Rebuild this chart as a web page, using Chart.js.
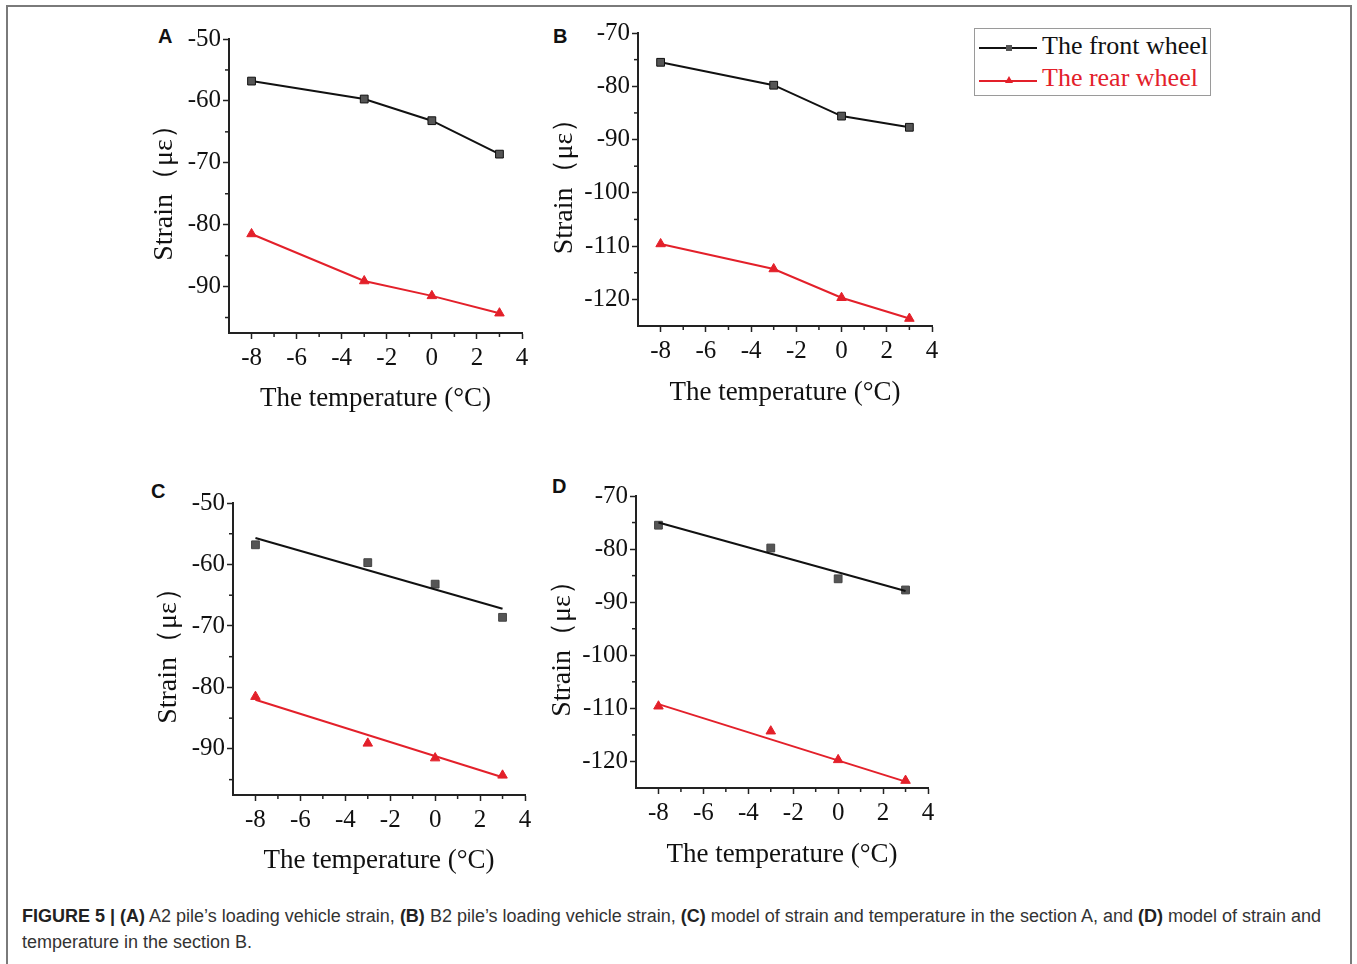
<!DOCTYPE html>
<html lang="en">
<head>
  <meta charset="UTF-8">
  <title>Strain vs temperature</title>
  <script src="https://cdn.jsdelivr.net/npm/chart.js"></script>
  <style>
    body { margin: 0; background: #fff; width: 1357px; height: 964px; overflow: hidden; position: relative; }
    .frame { position: absolute; left: 6px; top: 5px; width: 1342px; height: 980px;
             border: 2px solid #7a7a7a; border-bottom: none; }
    .panel { position: absolute; }
    .letter { position: absolute; font: bold 20px "Liberation Sans", Arial, sans-serif; color: #111; }
    .legend { position: absolute; left: 974px; top: 28px; width: 235px; height: 66px;
              border: 1.5px solid #9a9a9a; font: 26px "Liberation Serif", serif; }
    .legend div { position: absolute; left: 2px; height: 30px; line-height: 30px; white-space: nowrap; }
    .legend svg { vertical-align: middle; margin-right: 3px; }
    .caption { position: absolute; left: 22px; top: 903px; font: 18px/26px "Liberation Sans", Arial, sans-serif;
               color: #333; white-space: nowrap; }
    .caption b { color: #222; }
  </style>
</head>
<body>
  <div class="frame"></div>

  <div class="letter" style="left:158px;top:25px">A</div>
  <div class="letter" style="left:553px;top:25px">B</div>
  <div class="letter" style="left:151px;top:480px">C</div>
  <div class="letter" style="left:552px;top:475px">D</div>

  <canvas id="chartA" class="panel" style="left:140px;top:20px" width="400" height="400"></canvas>
  <canvas id="chartB" class="panel" style="left:540px;top:14px" width="420" height="400"></canvas>
  <canvas id="chartC" class="panel" style="left:144px;top:484px" width="400" height="398"></canvas>
  <canvas id="chartD" class="panel" style="left:538px;top:477px" width="410" height="399"></canvas>

  <div class="legend">
    <div style="top:2px;color:#111">
      <svg width="62" height="12"><line x1="2" y1="6" x2="60" y2="6" stroke="#111" stroke-width="2"/><rect x="29" y="3" width="6" height="6" fill="#555"/></svg>The front wheel
    </div>
    <div style="top:34px;color:#e3202a">
      <svg width="62" height="12"><line x1="2" y1="7" x2="60" y2="7" stroke="#e3202a" stroke-width="2"/><polygon points="32,2 36,9 28,9" fill="#e3202a"/></svg>The rear wheel
    </div>
  </div>

  <div class="caption">
    <b>FIGURE 5 | (A)</b> A2 pile’s loading vehicle strain, <b>(B)</b> B2 pile’s loading vehicle strain, <b>(C)</b> model of strain and temperature in the section A, and <b>(D)</b> model of strain and<br>temperature in the section B.
  </div>

  <script>
    // measured data
    const temps = [-8, -3, 0, 3];
    const frontA = [-56.8, -59.7, -63.2, -68.6];
    const rearA = [-81.5, -89.1, -91.5, -94.3];
    const frontB = [-75.5, -79.8, -85.6, -87.7];
    const rearB = [-109.6, -114.3, -119.7, -123.6];

    // fitted lines in C and D (end points)
    const fitX = [-8, 3];
    const fitFrontC = [-55.7, -67.2];
    const fitRearC = [-82.0, -94.6];
    const fitFrontD = [-75.0, -87.9];
    const fitRearD = [-109.2, -123.8];

    const xTicks = [-8, -6, -4, -2, 0, 2, 4];
    const yTicksAC = [-50, -60, -70, -80, -90];
    const yTicksBD = [-70, -80, -90, -100, -110, -120];

    const BLACK = "#111";
    const RED = "#e3202a";
    const serif = "'Liberation Serif', 'Times New Roman', serif";

    const pts = (xs, ys) => xs.map((x, i) => ({ x, y: ys[i] }));

    const minorTicks = {
      id: "minorTicks",
      afterDraw(chart) {
        const ctx = chart.ctx;
        ctx.save();
        ctx.strokeStyle = "#222";
        ctx.lineWidth = 1.5;
        ["x", "y"].forEach(id => {
          const s = chart.scales[id];
          const vals = s.ticks.map(t => t.value);
          const step = Math.abs(vals[1] - vals[0]);
          const lo = Math.min(...vals);
          for (let m = lo - step / 2; m < s.max; m += step) {
            if (m <= s.min || m >= s.max) continue;
            const p = s.getPixelForValue(m);
            ctx.beginPath();
            if (id === "x") { ctx.moveTo(p, s.top); ctx.lineTo(p, s.top + 4); }
            else { ctx.moveTo(s.right - 4, p); ctx.lineTo(s.right, p); }
            ctx.stroke();
          }
        });
        ctx.restore();
      }
    };

    function makeChart(id, datasets, yMin, yMax, yTicks, yWidth, xHeight, padRight) {
      return new Chart(document.getElementById(id), {
        type: "scatter",
        data: { datasets },
        options: {
          responsive: false,
          animation: false,
          layout: { padding: { top: 19, right: padRight, left: 0, bottom: 0 } },
          plugins: { legend: { display: false }, tooltip: { enabled: false } },
          scales: {
            x: {
              type: "linear", min: -9, max: 4,
              afterBuildTicks: s => { s.ticks = xTicks.map(v => ({ value: v })); },
              afterFit: s => { s.height = xHeight; },
              grid: { drawOnChartArea: false, tickLength: 6, color: "#222", tickWidth: 1.5 },
              border: { color: "#222", width: 2 },
              ticks: { color: BLACK, padding: 4, font: { family: serif, size: 25 }, maxRotation: 0 },
              title: { display: true, text: "The temperature (°C)", color: BLACK,
                       font: { family: serif, size: 27 }, padding: { top: 0, bottom: 5 } }
            },
            y: {
              min: yMin, max: yMax,
              afterBuildTicks: s => { s.ticks = yTicks.map(v => ({ value: v })); },
              afterFit: s => { s.width = yWidth; },
              grid: { drawOnChartArea: false, tickLength: 6, color: "#222", tickWidth: 1.5 },
              border: { color: "#222", width: 2 },
              ticks: { color: BLACK, padding: 2, font: { family: serif, size: 25 } },
              title: { display: true, text: "Strain（με）", color: BLACK,
                       font: { family: serif, size: 28 }, padding: { top: 8, bottom: 0 } }
            }
          }
        },
        plugins: [minorTicks]
      });
    }

    const frontStyle = { pointStyle: "rect", pointRadius: 5.5, backgroundColor: "#555", borderColor: "#444", pointBorderWidth: 1 };
    const rearStyle = { pointStyle: "triangle", pointRadius: 5.5, backgroundColor: RED, borderColor: RED, pointBorderWidth: 1 };

    const linked = (ys, style, color) => Object.assign({
      data: pts(temps, ys), showLine: true, borderWidth: 2
    }, style, { borderColor: color });

    const markers = (ys, style) => Object.assign({ data: pts(temps, ys), showLine: false }, style);
    const fit = (ys, color) => ({ data: pts(fitX, ys), showLine: true, borderColor: color, borderWidth: 2, pointRadius: 0 });

    makeChart("chartA", [linked(frontA, frontStyle, BLACK), linked(rearA, rearStyle, RED)],
      -97.5, -50, yTicksAC, 89, 87, 18);
    makeChart("chartB", [linked(frontB, frontStyle, BLACK), linked(rearB, rearStyle, RED)],
      -125, -70, yTicksBD, 98, 88, 28);
    makeChart("chartC", [fit(fitFrontC, BLACK), fit(fitRearC, RED), markers(frontA, frontStyle), markers(rearA, rearStyle)],
      -97.5, -50, yTicksAC, 89, 87, 19);
    makeChart("chartD", [fit(fitFrontD, BLACK), fit(fitRearD, RED), markers(frontB, frontStyle), markers(rearB, rearStyle)],
      -125, -70, yTicksBD, 98, 88, 20);
  </script>
</body>
</html>
